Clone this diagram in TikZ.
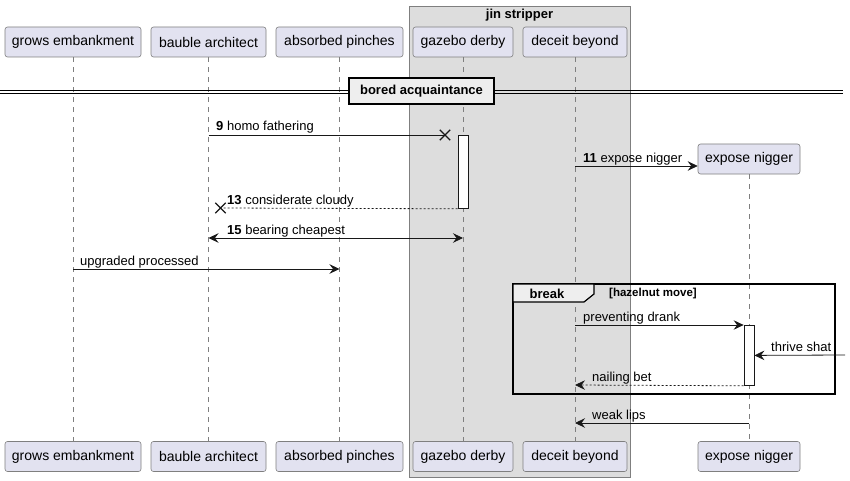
\documentclass[tikz,border=0pt]{standalone}
\usepackage{fontspec}
\setmainfont{Liberation Sans}
\usetikzlibrary{arrows.meta,positioning,shapes.misc,calc}
\definecolor{partbg}{HTML}{E2E2F0}
\definecolor{partline}{HTML}{7F7F7F}
\definecolor{groupbg}{HTML}{DDDDDD}
\definecolor{tabbg}{HTML}{EEEEEE}
\definecolor{ink}{HTML}{181818}
\tikzset{
  actor/.style={draw=partline,fill=partbg,line width=0.6pt,rounded corners=2.5pt,
                minimum height=30pt,inner sep=0pt,font=\fontsize{14}{16}\selectfont},
  lifeline/.style={draw=partline,line width=0.6pt,dash pattern=on 5pt off 5pt},
  msg/.style={-{Stealth[length=10pt,width=9.5pt,inset=3.5pt]},draw=ink,line width=0.8pt},
  plainmsg/.style={draw=ink,line width=0.8pt},
  reply/.style={msg,dash pattern=on 2pt off 2pt},
  bothmsg/.style={{Stealth[length=10pt,width=9.5pt,inset=3.5pt]}-{Stealth[length=10pt,width=9.5pt,inset=3.5pt]},
                  draw=ink,line width=0.8pt},
  msgtext/.style={anchor=base west,inner sep=0pt,font=\fontsize{13}{15}\selectfont},
  activation/.style={draw=ink,fill=white,line width=0.8pt,minimum width=10pt,
                     inner sep=0pt,anchor=north},
  lost/.style={cross out,draw=ink,line width=1.4pt,minimum size=9pt,inner sep=0pt},
  sepbox/.style={draw=black,fill=tabbg,line width=1.6pt,minimum width=145pt,
                 minimum height=26pt,inner sep=0pt,font=\fontsize{13}{15}\selectfont\bfseries}
}

\begin{document}
\begin{tikzpicture}[x=1pt,y=-1pt]
  \useasboundingbox (0,0) rectangle (850,481);
  % box round the two grouped participants
  \draw[partline,fill=groupbg,line width=0.6pt] (409,6) rectangle (630,477);
  \node[font=\fontsize{13}{15}\selectfont\bfseries] (grptitle) at (519.5,15) {jin stripper};

  % participants, top and bottom
  \node[actor,minimum width=136pt] (grows) at (73,42) {grows embankment};
  \node[actor,minimum width=115pt] (bauble) at (208.5,42) {bauble architect};
  \node[actor,minimum width=127pt] (absorbed) at (339.5,42) {absorbed pinches};
  \node[actor,minimum width=100pt] (gazebo) at (463,42) {gazebo derby};
  \node[actor,minimum width=104pt] (deceit) at (575,42) {deceit beyond};
  \node[actor,minimum width=102pt] (expose) at (749,159) {expose nigger};
  \node[actor,minimum width=136pt] (growsB) at (73,456.5) {grows embankment};
  \node[actor,minimum width=115pt] (baubleB) at (208.5,456.5) {bauble architect};
  \node[actor,minimum width=127pt] (absorbedB) at (339.5,456.5) {absorbed pinches};
  \node[actor,minimum width=100pt] (gazeboB) at (463,456.5) {gazebo derby};
  \node[actor,minimum width=104pt] (deceitB) at (575,456.5) {deceit beyond};
  \node[actor,minimum width=102pt] (exposeB) at (749,456.5) {expose nigger};

  \draw[lifeline] (grows) -- (growsB);
  \draw[lifeline] (bauble) -- (baubleB);
  \draw[lifeline] (absorbed) -- (absorbedB);
  \draw[lifeline] (gazebo) -- (gazeboB);
  \draw[lifeline] (deceit) -- (deceitB);
  \draw[lifeline] (expose) -- (exposeB);

  % divider
  \draw[black,line width=0.9pt] (0,90) -- (843,90) (0,93) -- (843,93);
  \node[sepbox] (divider) at (421.5,91) {bored acquaintance};

  % messages
  \coordinate (m9s) at (208.5,135);
  \node[lost] (lost9) at (445,135) {};
  \draw[plainmsg] (m9s) -- (lost9.center);
  \node[msgtext] (t9) at (216,131) {\textbf{9} homo fathering};

  \node[activation,minimum height=73pt] (actgaz) at (463,135) {};

  \coordinate (m11s) at (575,166);
  \draw[msg] (m11s) -- (expose.west |- m11s);
  \node[msgtext] (t11) at (583,162) {\textbf{11} expose nigger};

  \node[lost] (lost13) at (220.5,208) {};
  \draw[reply,-] (actgaz.south west) -- (lost13.center);
  \node[msgtext] (t13) at (227,204) {\textbf{13} considerate cloudy};

  \coordinate (m15a) at (208.5,238);
  \coordinate (m15b) at (463,238);
  \draw[bothmsg] (m15a) -- (m15b);
  \node[msgtext] (t15) at (227,234) {\textbf{15} bearing cheapest};

  \coordinate (mups) at (73,269);
  \coordinate (mupe) at (339.5,269);
  \draw[msg] (mups) -- (mupe);
  \node[msgtext] (tup) at (80,265) {upgraded processed};

  % break fragment
  \draw[black,line width=1.6pt] (513,284) rectangle (835,394);
  \draw[black,fill=tabbg,line width=1.2pt] (513,284) -- (594,284) -- (594,294) -- (584,302)
    -- (513,302) -- cycle;
  \node[font=\fontsize{13}{15}\selectfont\bfseries] (brk) at (547,293.5) {break};
  \node[anchor=west,inner sep=0pt,font=\fontsize{11.5}{13}\selectfont\bfseries] (guard)
    at (609,294) {[hazelnut move]};

  \node[activation,minimum height=60pt] (actexp) at (749,325) {};
  \coordinate (mpds) at (575,325);
  \draw[msg] (mpds) -- (actexp.north west);
  \node[msgtext] (tpd) at (583,321) {preventing drank};

  \coordinate (mtss) at (845,355);
  \draw[msg] (mtss) -- (actexp.east);
  \node[msgtext] (tts) at (771,351) {thrive shat};

  \coordinate (mnbe) at (575,385);
  \draw[reply] (actexp.south west) -- (mnbe);
  \node[msgtext] (tnb) at (592,381) {nailing bet};

  \coordinate (mwls) at (749,423);
  \coordinate (mwle) at (575,423);
  \draw[msg] (mwls) -- (mwle);
  \node[msgtext] (twl) at (592,419) {weak lips};
\end{tikzpicture}
\end{document}
